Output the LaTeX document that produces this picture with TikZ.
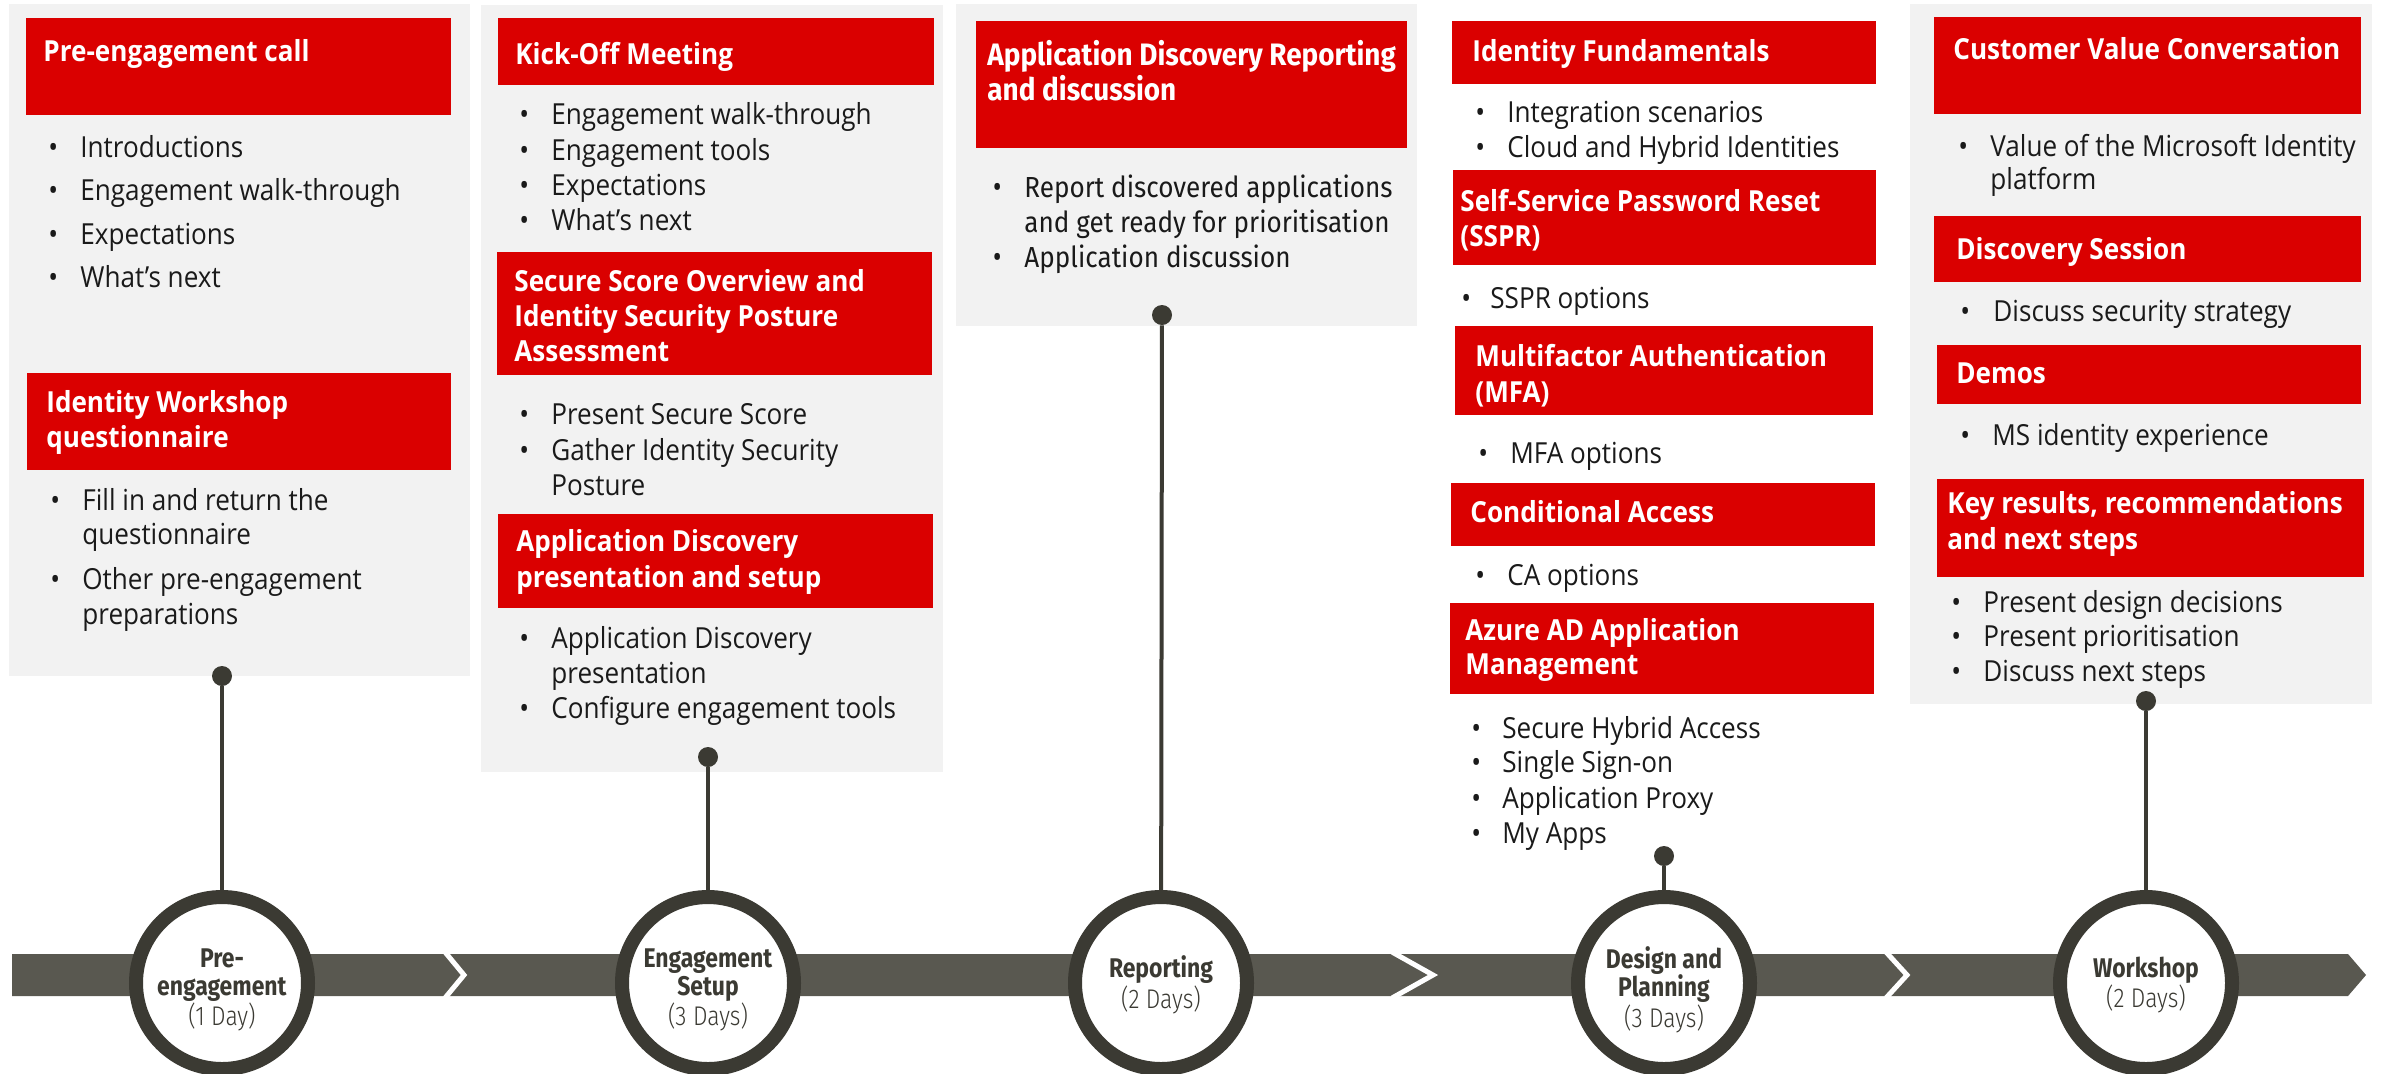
\documentclass[tikz,border=0pt]{standalone}
\usepackage{fontspec}
\setmainfont{Open Sans}
\newfontfamily\osans{Open Sans}[FakeStretch=0.9]
\newfontfamily\firac{Fira Sans}[FakeStretch=0.85]
\newfontfamily\firap{Fira Sans}[FakeStretch=0.9]
\newfontfamily\firal{Fira Sans Light}[FakeStretch=0.85]
\definecolor{fjred}{HTML}{DA0000}
\definecolor{panelc}{HTML}{F2F2F2}
\definecolor{bandc}{HTML}{595850}
\definecolor{ringc}{HTML}{3B3A33}
\definecolor{txtc}{HTML}{1A1A1A}
\tikzset{
  hd/.style={anchor=base west, inner sep=0pt, text=white, font=\osans\bfseries\fontsize{14.5}{17}\selectfont},
  hdc/.style={anchor=base west, inner sep=0pt, text=white, font=\firap\bfseries\fontsize{15.5}{18}\selectfont},
  tx/.style={anchor=base west, inner sep=0pt, text=txtc, font=\osans\fontsize{14.5}{17}\selectfont},
  txc/.style={anchor=base west, inner sep=0pt, text=txtc, font=\firap\fontsize{14.5}{17}\selectfont},
  bul/.style={anchor=base west, inner sep=0pt, text=txtc, font=\osans\fontsize{14.5}{17}\selectfont},
  redbox/.style={fill=fjred},
  panel/.style={fill=panelc},
  ring/.style={circle, draw=ringc, line width=7pt, fill=white, minimum size=86pt, inner sep=0pt},
  pin/.style={circle, fill=ringc, minimum size=10pt, inner sep=0pt},
  conn/.style={draw=ringc, line width=2pt},
  ctext/.style={align=center, inner sep=0pt, text=ringc, font=\firac\fontsize{13.5}{14}\selectfont},
  chev/.style={draw=white, line width=2.5pt},
}
\newcommand{\Bl}[6][tx]{\node[bul] (#2b) at (#3,#5) {\textbullet};\node[#1] (#2) at (#4,#5) {#6};}
\newcommand{\dys}[1]{{\firal #1}}
\begin{document}
\begin{tikzpicture}[x=0.5pt, y=-0.5pt]
\fill[white] (0,0) rectangle (2382,1073);
\path[use as bounding box] (0,0) rectangle (2382,1073);

% panels
\fill[panel] (9,4) rectangle (470,676);
\fill[panel] (481,5) rectangle (943,772);
\fill[panel] (956,4) rectangle (1417,326);
\fill[panel] (1910,4) rectangle (2372,704);

% ---------- column 1
\fill[redbox] (26,18) rectangle (451,115);
\node[hd] (h11) at (43,61) {Pre-engagement call};
\Bl{i11}{48}{80}{157}{Introductions}
\Bl{i12}{48}{80}{200}{Engagement walk-through}
\Bl{i13}{48}{80}{244}{Expectations}
\Bl{i14}{48}{80}{287}{What’s next}
\fill[redbox] (27,373) rectangle (451,470);
\node[hd] (h12a) at (46,412) {Identity Workshop};
\node[hd] (h12b) at (46,447) {questionnaire};
\Bl{i15}{50}{82}{510}{Fill in and return the}
\node[tx] (i15c) at (82,544) {questionnaire};
\Bl{i16}{50}{82}{589}{Other pre-engagement}
\node[tx] (i16c) at (82,624) {preparations};

% ---------- column 2
\fill[redbox] (498,18) rectangle (934,85);
\node[hd] (h21) at (515,64) {Kick-Off Meeting};
\Bl{i21}{519}{551}{124}{Engagement walk-through}
\Bl{i22}{519}{551}{160}{Engagement tools}
\Bl{i23}{519}{551}{195}{Expectations}
\Bl{i24}{519}{551}{230}{What’s next}
\fill[redbox] (497,252) rectangle (932,375);
\node[hd] (h22a) at (514,291) {Secure Score Overview and};
\node[hd] (h22b) at (514,326) {Identity Security Posture};
\node[hd] (h22c) at (514,361) {Assessment};
\Bl{i25}{519}{551}{424}{Present Secure Score}
\Bl{i26}{519}{551}{460}{Gather Identity Security}
\node[tx] (i26c) at (551,495) {Posture};
\fill[redbox] (498,514) rectangle (933,608);
\node[hd] (h23a) at (516,551) {Application Discovery};
\node[hd] (h23b) at (516,587) {presentation and setup};
\Bl{i27}{519}{551}{648}{Application Discovery}
\node[tx] (i27c) at (551,683) {presentation};
\Bl{i28}{519}{551}{718}{Configure engagement tools}

% ---------- column 3
\fill[redbox] (976,21) rectangle (1407,148);
\node[hdc] (h31a) at (987,65) {Application Discovery Reporting};
\node[hdc] (h31b) at (987,100) {and discussion};
\Bl[txc]{i31}{992}{1024}{197}{Report discovered applications}
\node[txc] (i31c) at (1024,232) {and get ready for prioritisation};
\Bl[txc]{i32}{992}{1024}{267}{Application discussion}

% ---------- column 4
\fill[redbox] (1452,21) rectangle (1876,84);
\node[hd] (h41) at (1472,61) {Identity Fundamentals};
\Bl{i41}{1475}{1507}{122}{Integration scenarios}
\Bl{i42}{1475}{1507}{157}{Cloud and Hybrid Identities}
\fill[redbox] (1453,170) rectangle (1876,265);
\node[hd] (h42a) at (1460,211) {Self-Service Password Reset};
\node[hd] (h42b) at (1460,246) {(SSPR)};
\Bl{i43}{1461}{1490}{308}{SSPR options}
\fill[redbox] (1455,326) rectangle (1873,415);
\node[hd] (h43a) at (1475,366) {Multifactor Authentication};
\node[hd] (h43b) at (1475,402) {(MFA)};
\Bl{i44}{1478}{1510}{463}{MFA options}
\fill[redbox] (1451,483) rectangle (1875,546);
\node[hd] (h44) at (1470,522) {Conditional Access};
\Bl{i45}{1475}{1507}{585}{CA options}
\fill[redbox] (1450,603) rectangle (1874,694);
\node[hd] (h45a) at (1465,640) {Azure AD Application};
\node[hd] (h45b) at (1465,674) {Management};
\Bl{i46}{1471}{1502}{738}{Secure Hybrid Access}
\Bl{i47}{1471}{1502}{772}{Single Sign-on}
\Bl{i48}{1471}{1502}{808}{Application Proxy}
\Bl{i49}{1471}{1502}{843}{My Apps}

% ---------- column 5
\fill[redbox] (1934,17) rectangle (2361,114);
\node[hd] (h51) at (1953,59) {Customer Value Conversation};
\Bl{i51}{1958}{1990}{156}{Value of the Microsoft Identity}
\node[tx] (i51c) at (1990,189) {platform};
\fill[redbox] (1934,216) rectangle (2361,282);
\node[hd] (h52) at (1956,259) {Discovery Session};
\Bl{i52}{1960}{1993}{321}{Discuss security strategy}
\fill[redbox] (1937,345) rectangle (2361,404);
\node[hd] (h53) at (1956,383) {Demos};
\Bl{i53}{1960}{1992}{445}{MS identity experience}
\fill[redbox] (1937,479) rectangle (2364,577);
\node[hd] (h54a) at (1947,513) {Key results, recommendations};
\node[hd] (h54b) at (1947,549) {and next steps};
\Bl{i54}{1951}{1983}{612}{Present design decisions}
\Bl{i55}{1951}{1983}{646}{Present prioritisation}
\Bl{i56}{1951}{1983}{681}{Discuss next steps}

% ---------- timeline band
\fill[bandc] (12,954) -- (2348,954) -- (2366,975) -- (2348,996) -- (12,996) -- cycle;
\draw[chev] (445,952) -- (464,975) -- (445,998);
\draw[chev] (1392,952) -- (1433,975) -- (1392,998);
\draw[chev] (1886,952) -- (1907,975) -- (1886,998);

% pins
\node[pin] (d1) at (222,676) {};
\node[pin] (d2) at (708,757) {};
\node[pin] (d3) at (1162,315) {};
\node[pin] (d4) at (1664,856) {};
\node[pin] (d5) at (2146,701) {};

% milestone circles
\node[ring] (c1) at (222,983) {};
\node[ring] (c2) at (708,983) {};
\node[ring] (c3) at (1161,983) {};
\node[ring] (c4) at (1664,983) {};
\node[ring] (c5) at (2146,983) {};

\draw[conn] (d1) -- (c1);
\draw[conn] (d2) -- (c2);
\draw[conn] (d3) -- (c3);
\draw[conn] (d4) -- (c4);
\draw[conn] (d5) -- (c5);

\node[ctext] (t1) at (222,990) {\textbf{Pre-}\\\textbf{engagement}\\\dys{(1 Day)}};
\node[ctext] (t2) at (708,990) {\textbf{Engagement}\\\textbf{Setup}\\\dys{(3 Days)}};
\node[ctext] (t3) at (1161,985) {\textbf{Reporting}\\\dys{(2 Days)}};
\node[ctext] (t4) at (1664,990) {\textbf{Design and}\\\textbf{Planning}\\\dys{(3 Days)}};
\node[ctext] (t5) at (2146,985) {\textbf{Workshop}\\\dys{(2 Days)}};
\end{tikzpicture}
\end{document}
